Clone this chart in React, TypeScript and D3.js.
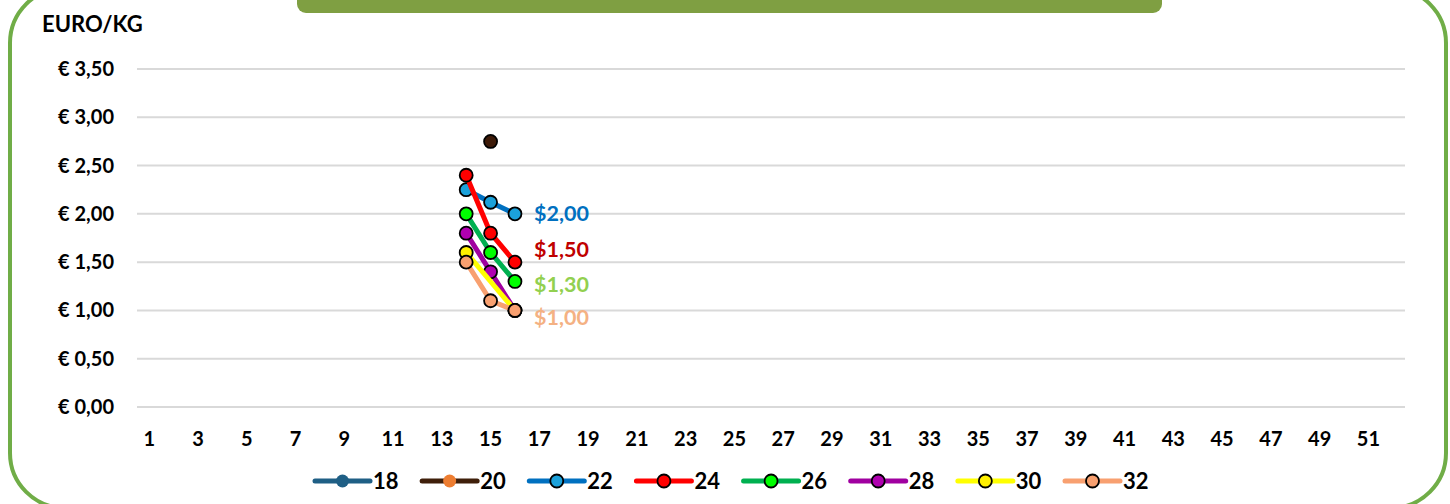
import * as d3 from "d3";
import React from "react";

const weeks = d3.range(1, 53);
const tickWeeks = weeks.filter((w) => w % 2 === 1);
const yTicks = [0, 0.5, 1, 1.5, 2, 2.5, 3, 3.5];
const dataWeeks = [14, 15, 16];

const seriesNames = ["18", "20", "22", "24", "26", "28", "30", "32"];
const lineColors = ["#1F5F85", "#3F1F0A", "#0070C0", "#FF0000", "#00B050", "#A000A0", "#FFFF00", "#F8A070"];
const markerColors = ["#1F5F85", "#ED7D31", "#1BA1DA", "#FF0000", "#00FF00", "#B000B0", "#FFF000", "#F8A070"];
const pointColors = ["#1F5F85", "#3D1A08", "#1BA1DA", "#FF0000", "#00FF00", "#B000B0", "#FFF000", "#F8A070"];
const markerBorder = [false, false, true, true, true, true, true, true];

// values for weeks 14, 15, 16
const values: (number | null)[][] = [
  [null, null, null],
  [null, 2.75, null],
  [2.25, 2.12, 2.0],
  [2.4, 1.8, 1.5],
  [2.0, 1.6, 1.3],
  [1.8, 1.4, 1.0],
  [1.6, null, 1.0],
  [1.5, 1.1, 1.0],
];

const noteTexts = ["$2,00", "$1,50", "$1,30", "$1,00"];
const noteColors = ["#0070C0", "#C00000", "#92D050", "#F4B183"];
const noteAt = [2.0, 1.63, 1.27, 0.93];

const W = 1450;
const H = 504;
const FONT = "Lato, 'Open Sans', sans-serif";

export default function App() {
  const x = d3.scaleBand<number>().domain(weeks).range([137, 1405]);
  const y = d3.scaleLinear().domain([0, 3.5]).range([407, 69]);
  const cx = (w: number) => (x(w) as number) + x.bandwidth() / 2;

  const line = d3
    .line<[number, number]>()
    .x((d) => cx(d[0]))
    .y((d) => y(d[1]));

  const legendX = d3.scaleLinear().domain([0, 7]).range([315, 1065]);

  return (
    <svg width={W} height={H} style={{ position: "absolute", left: 0, top: 0, background: "#fff" }}>
      <rect x={10} y={-12} width={1436} height={520} rx={55} ry={55} fill="#fff" stroke="#70AD47" strokeWidth={4} />
      <rect x={297} y={-20} width={865} height={33} rx={9} fill="#7F9F42" />

      <text x={42} y={24} dy="0.35em" fontFamily={FONT} fontWeight="bold" fontSize={22} fill="#000">EURO/KG</text>

      {yTicks.map((t) => (
        <g key={t}>
          <line x1={137} x2={1405} y1={y(t)} y2={y(t)} stroke="#D9D9D9" strokeWidth={2} />
          <text x={114} y={y(t)} dy="0.35em" textAnchor="end" fontFamily={FONT} fontWeight="bold" fontSize={20}>
            {"€ " + t.toFixed(2).replace(".", ",")}
          </text>
        </g>
      ))}

      {tickWeeks.map((w) => (
        <text key={w} x={cx(w)} y={439} dy="0.35em" textAnchor="middle" fontFamily={FONT} fontWeight="bold" fontSize={20}>
          {w}
        </text>
      ))}

      {seriesNames.map((name, i) => {
        const pts = dataWeeks
          .map((w, j) => [w, values[i][j]] as [number, number | null])
          .filter((d) => d[1] !== null) as [number, number][];
        return (
          <g key={name}>
            {pts.length > 1 && (
              <path d={line(pts) || ""} fill="none" stroke={lineColors[i]} strokeWidth={5} strokeLinejoin="round" />
            )}
            {pts.map((p) => (
              <circle
                key={p[0]}
                cx={cx(p[0])}
                cy={y(p[1])}
                r={6.5}
                fill={pointColors[i]}
                stroke="#000"
                strokeWidth={1.8}
              />
            ))}
          </g>
        );
      })}

      {noteTexts.map((t, i) => (
        <text key={t} x={cx(16) + 19} y={y(noteAt[i])} dy="0.35em" fontFamily={FONT} fontWeight="bold" fontSize={21.5} fill={noteColors[i]}>
          {t}
        </text>
      ))}

      {seriesNames.map((name, i) => {
        const lx = legendX(i);
        return (
          <g key={name}>
            <line x1={lx} x2={lx + 55} y1={481} y2={481} stroke={lineColors[i]} strokeWidth={5} strokeLinecap="round" />
            <circle
              cx={lx + 27.5}
              cy={481}
              r={6.5}
              fill={markerColors[i]}
              stroke={markerBorder[i] ? "#000" : "none"}
              strokeWidth={1.8}
            />
            <text x={lx + 58} y={481} dy="0.35em" fontFamily={FONT} fontWeight="bold" fontSize={22}>
              {name}
            </text>
          </g>
        );
      })}
    </svg>
  );
}
